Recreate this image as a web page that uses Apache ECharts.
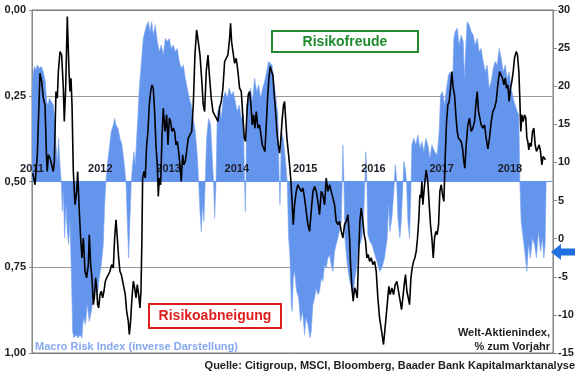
<!DOCTYPE html>
<html><head><meta charset="utf-8">
<script src="https://cdn.jsdelivr.net/npm/echarts@6/dist/echarts.min.js"></script>
<style>html,body{margin:0;padding:0;background:#fff}#c{width:580px;height:375px}</style>
</head><body><div id="c"></div>
<script>
// Macro Risk Index (inverse), left axis
const riskDates = [2011.000,2011.020,2011.039,2011.059,2011.078,2011.107,2011.137,2011.166,2011.195,2011.215,2011.234,2011.254,2011.283,2011.312,2011.332,2011.351,2011.371,2011.390,2011.410,2011.429,2011.444,2011.459,2011.478,2011.498,2011.517,2011.537,2011.556,2011.576,2011.595,2011.615,2011.644,2011.673,2011.703,2011.732,2011.752,2011.781,2011.810,2011.839,2011.869,2011.898,2011.927,2011.956,2011.986,2012.015,2012.044,2012.064,2012.083,2012.103,2012.132,2012.161,2012.191,2012.210,2012.230,2012.259,2012.288,2012.318,2012.347,2012.376,2012.396,2012.415,2012.435,2012.454,2012.474,2012.493,2012.513,2012.532,2012.552,2012.571,2012.591,2012.610,2012.630,2012.654,2012.679,2012.703,2012.728,2012.752,2012.776,2012.806,2012.835,2012.864,2012.893,2012.923,2012.952,2012.981,2013.011,2013.040,2013.069,2013.098,2013.128,2013.157,2013.186,2013.216,2013.245,2013.274,2013.303,2013.333,2013.362,2013.391,2013.420,2013.440,2013.460,2013.479,2013.498,2013.518,2013.537,2013.557,2013.586,2013.616,2013.645,2013.660,2013.674,2013.694,2013.713,2013.743,2013.772,2013.801,2013.830,2013.860,2013.889,2013.918,2013.948,2013.977,2014.006,2014.035,2014.065,2014.094,2014.113,2014.123,2014.133,2014.143,2014.172,2014.201,2014.230,2014.260,2014.289,2014.318,2014.348,2014.377,2014.406,2014.435,2014.465,2014.484,2014.514,2014.543,2014.572,2014.601,2014.621,2014.631,2014.640,2014.650,2014.679,2014.709,2014.738,2014.758,2014.777,2014.797,2014.811,2014.826,2014.845,2014.875,2014.904,2014.933,2014.963,2014.992,2015.011,2015.041,2015.070,2015.089,2015.114,2015.138,2015.163,2015.187,2015.211,2015.236,2015.260,2015.285,2015.309,2015.333,2015.358,2015.382,2015.407,2015.431,2015.455,2015.480,2015.504,2015.529,2015.543,2015.553,2015.568,2015.582,2015.607,2015.631,2015.655,2015.680,2015.704,2015.729,2015.753,2015.777,2015.802,2015.831,2015.860,2015.875,2015.890,2015.904,2015.919,2015.948,2015.978,2016.007,2016.036,2016.065,2016.095,2016.124,2016.163,2016.202,2016.222,2016.241,2016.270,2016.300,2016.319,2016.339,2016.358,2016.388,2016.407,2016.427,2016.446,2016.466,2016.485,2016.505,2016.529,2016.549,2016.563,2016.592,2016.622,2016.651,2016.680,2016.710,2016.739,2016.768,2016.797,2016.827,2016.856,2016.895,2016.934,2016.963,2016.983,2017.012,2017.041,2017.071,2017.100,2017.129,2017.159,2017.178,2017.198,2017.227,2017.256,2017.285,2017.315,2017.334,2017.354,2017.373,2017.403,2017.432,2017.461,2017.490,2017.520,2017.549,2017.578,2017.608,2017.637,2017.666,2017.695,2017.725,2017.754,2017.783,2017.812,2017.842,2017.871,2017.900,2017.930,2017.959,2017.988,2018.017,2018.047,2018.076,2018.105,2018.130,2018.144,2018.164,2018.193,2018.222,2018.247,2018.271,2018.300,2018.330,2018.359,2018.388,2018.417,2018.447,2018.476,2018.495,2018.515,2018.530];
const riskValues = [0.238,0.180,0.165,0.175,0.160,0.170,0.165,0.180,0.209,0.267,0.277,0.257,0.267,0.277,0.316,0.393,0.442,0.374,0.451,0.500,0.587,0.529,0.665,0.568,0.646,0.684,0.617,0.762,0.937,0.956,0.947,0.956,0.947,0.956,0.898,0.917,0.859,0.908,0.879,0.840,0.811,0.830,0.782,0.743,0.684,0.568,0.500,0.451,0.403,0.354,0.335,0.316,0.335,0.345,0.374,0.393,0.442,0.500,0.617,0.723,0.607,0.500,0.451,0.413,0.451,0.374,0.306,0.228,0.180,0.131,0.083,0.063,0.044,0.034,0.063,0.034,0.073,0.044,0.092,0.121,0.102,0.131,0.083,0.092,0.083,0.112,0.102,0.121,0.112,0.150,0.170,0.160,0.199,0.228,0.257,0.277,0.316,0.354,0.422,0.500,0.587,0.646,0.568,0.617,0.500,0.374,0.316,0.335,0.451,0.500,0.607,0.510,0.306,0.277,0.316,0.257,0.238,0.257,0.228,0.248,0.238,0.267,0.296,0.277,0.316,0.306,0.500,0.587,0.500,0.277,0.257,0.228,0.267,0.199,0.238,0.218,0.257,0.228,0.209,0.180,0.150,0.146,0.160,0.209,0.257,0.306,0.500,0.568,0.500,0.354,0.374,0.432,0.500,0.665,0.714,0.859,0.879,0.782,0.762,0.820,0.840,0.908,0.879,0.947,0.898,0.917,0.956,0.937,0.859,0.840,0.811,0.830,0.820,0.782,0.791,0.743,0.752,0.723,0.714,0.743,0.762,0.704,0.684,0.665,0.665,0.617,0.500,0.393,0.500,0.665,0.723,0.762,0.791,0.811,0.830,0.782,0.752,0.694,0.684,0.665,0.587,0.500,0.413,0.500,0.655,0.675,0.684,0.704,0.723,0.743,0.762,0.752,0.723,0.665,0.568,0.646,0.607,0.529,0.451,0.490,0.607,0.665,0.617,0.529,0.442,0.461,0.500,0.617,0.665,0.529,0.393,0.374,0.393,0.364,0.403,0.384,0.413,0.374,0.393,0.432,0.393,0.413,0.422,0.354,0.248,0.238,0.277,0.228,0.189,0.180,0.218,0.083,0.063,0.053,0.102,0.073,0.092,0.199,0.102,0.034,0.044,0.063,0.073,0.102,0.083,0.121,0.112,0.150,0.180,0.160,0.228,0.209,0.170,0.150,0.160,0.112,0.141,0.180,0.160,0.199,0.180,0.228,0.257,0.277,0.296,0.306,0.500,0.617,0.665,0.714,0.762,0.684,0.723,0.665,0.684,0.723,0.646,0.704,0.665,0.723,0.684,0.500];

// Welt-Aktienindex, % zum Vorjahr, right axis
const stockDates = [2011.010,2011.044,2011.078,2011.117,2011.142,2011.166,2011.190,2011.215,2011.224,2011.239,2011.264,2011.293,2011.312,2011.327,2011.351,2011.371,2011.386,2011.410,2011.434,2011.459,2011.473,2011.493,2011.517,2011.542,2011.556,2011.571,2011.586,2011.605,2011.630,2011.654,2011.669,2011.693,2011.712,2011.732,2011.752,2011.776,2011.800,2011.825,2011.839,2011.859,2011.878,2011.898,2011.913,2011.932,2011.947,2011.961,2011.976,2011.996,2012.015,2012.035,2012.054,2012.074,2012.093,2012.118,2012.142,2012.166,2012.191,2012.210,2012.230,2012.249,2012.269,2012.288,2012.308,2012.327,2012.347,2012.366,2012.386,2012.410,2012.425,2012.444,2012.464,2012.484,2012.503,2012.523,2012.542,2012.562,2012.581,2012.596,2012.610,2012.620,2012.640,2012.659,2012.679,2012.698,2012.718,2012.737,2012.757,2012.776,2012.796,2012.815,2012.835,2012.850,2012.864,2012.884,2012.903,2012.923,2012.947,2012.972,2012.991,2013.011,2013.030,2013.050,2013.069,2013.089,2013.108,2013.128,2013.147,2013.167,2013.186,2013.206,2013.225,2013.245,2013.264,2013.289,2013.313,2013.338,2013.362,2013.386,2013.411,2013.435,2013.460,2013.484,2013.508,2013.528,2013.552,2013.577,2013.601,2013.625,2013.650,2013.674,2013.699,2013.723,2013.747,2013.772,2013.796,2013.821,2013.845,2013.869,2013.894,2013.908,2013.923,2013.943,2013.967,2013.991,2014.016,2014.040,2014.065,2014.089,2014.109,2014.128,2014.148,2014.167,2014.187,2014.206,2014.226,2014.245,2014.265,2014.284,2014.309,2014.333,2014.353,2014.372,2014.392,2014.411,2014.431,2014.450,2014.470,2014.489,2014.509,2014.528,2014.548,2014.567,2014.587,2014.606,2014.626,2014.645,2014.665,2014.684,2014.699,2014.714,2014.733,2014.753,2014.772,2014.792,2014.811,2014.826,2014.845,2014.870,2014.894,2014.919,2014.943,2014.967,2014.992,2015.016,2015.041,2015.065,2015.089,2015.114,2015.138,2015.163,2015.187,2015.211,2015.236,2015.260,2015.285,2015.309,2015.333,2015.358,2015.382,2015.407,2015.431,2015.455,2015.480,2015.504,2015.529,2015.553,2015.577,2015.602,2015.626,2015.651,2015.665,2015.685,2015.704,2015.724,2015.743,2015.763,2015.782,2015.802,2015.821,2015.841,2015.865,2015.885,2015.904,2015.924,2015.943,2015.968,2015.992,2016.017,2016.041,2016.065,2016.090,2016.104,2016.124,2016.148,2016.173,2016.202,2016.226,2016.246,2016.270,2016.295,2016.319,2016.343,2016.368,2016.392,2016.412,2016.431,2016.451,2016.470,2016.490,2016.510,2016.529,2016.549,2016.568,2016.588,2016.607,2016.627,2016.646,2016.666,2016.680,2016.695,2016.710,2016.724,2016.749,2016.773,2016.797,2016.817,2016.836,2016.856,2016.876,2016.895,2016.915,2016.934,2016.954,2016.973,2016.993,2017.012,2017.032,2017.051,2017.071,2017.090,2017.110,2017.129,2017.149,2017.168,2017.188,2017.207,2017.227,2017.246,2017.266,2017.285,2017.305,2017.324,2017.339,2017.359,2017.383,2017.407,2017.432,2017.456,2017.481,2017.500,2017.520,2017.539,2017.559,2017.578,2017.603,2017.627,2017.651,2017.676,2017.700,2017.725,2017.749,2017.773,2017.798,2017.822,2017.847,2017.871,2017.891,2017.910,2017.930,2017.949,2017.969,2017.988,2018.008,2018.027,2018.047,2018.066,2018.091,2018.110,2018.130,2018.144,2018.159,2018.174,2018.193,2018.213,2018.232,2018.247,2018.261,2018.276,2018.291,2018.310,2018.330,2018.349,2018.369,2018.388,2018.408,2018.427,2018.447,2018.466,2018.486,2018.505,2018.520];
const stockValues = [8.60,7.07,11.00,21.70,20.61,18.43,17.55,10.13,8.82,11.00,10.57,10.79,8.82,10.13,19.30,18.43,21.92,24.54,24.10,19.74,15.37,19.74,29.13,21.92,19.30,21.05,17.55,8.82,4.45,6.20,8.82,3.58,0.09,-2.53,0.09,-4.28,-5.15,-3.41,0.52,-3.41,-5.15,-8.65,-7.77,-5.15,-6.46,-8.65,-9.08,-7.34,-6.90,-7.77,-6.90,-5.59,-5.15,-4.72,-4.28,-3.41,-3.84,0.09,2.49,0.09,-2.53,-4.28,-4.72,-5.59,-6.46,-7.34,-9.52,-10.83,-12.58,-10.83,-7.77,-5.59,-6.46,-7.77,-6.03,-7.34,-9.08,-6.90,0.09,7.95,8.82,7.95,12.31,14.06,17.55,19.30,20.17,19.74,16.68,12.31,9.69,5.54,7.95,7.07,13.19,17.12,14.06,16.24,12.31,15.81,15.37,14.06,14.50,14.06,12.31,12.75,11.44,9.69,7.51,11.00,9.69,10.13,11.44,13.19,13.62,14.06,17.55,24.10,27.38,25.85,24.10,21.05,17.55,16.68,21.92,24.10,21.05,18.43,16.68,16.24,15.81,15.37,17.12,17.99,19.74,23.23,23.67,24.10,26.29,28.25,25.85,24.54,23.01,23.67,21.92,19.74,19.30,15.81,13.19,12.75,16.68,18.86,19.30,17.55,14.93,16.24,14.50,16.68,14.50,14.93,13.62,12.31,11.88,11.44,14.93,18.43,21.05,22.58,21.92,21.49,18.86,16.68,14.06,12.31,11.22,13.19,15.81,17.55,17.99,15.81,13.19,11.44,9.69,7.51,4.45,1.83,4.45,6.20,7.07,7.29,6.20,6.64,5.32,3.58,1.83,0.96,3.58,6.20,6.86,6.20,4.89,3.14,6.20,5.76,4.45,7.95,6.20,7.07,6.20,5.32,4.45,2.27,1.83,2.27,0.96,0.09,1.83,2.27,3.14,0.09,-3.41,-6.46,-8.21,-6.46,-6.90,-7.77,-2.53,2.27,4.01,2.71,0.52,-0.35,-2.53,-2.10,-2.97,-2.53,-3.41,-2.97,-4.28,-7.77,-10.39,-10.61,-12.36,-13.89,-11.49,-8.65,-6.25,-7.34,-6.46,-7.34,-6.03,-5.59,-6.90,-8.21,-9.30,-7.77,-6.03,-4.72,-6.90,-7.77,-8.65,-5.15,-3.84,-2.97,-2.53,-1.66,0.09,2.71,5.76,5.32,7.51,4.45,7.07,9.04,7.51,4.45,1.83,0.09,-2.53,0.09,0.96,0.52,1.83,6.20,7.07,5.76,4.89,10.57,15.37,17.55,17.99,19.74,21.92,19.74,18.86,16.24,14.06,13.19,13.41,12.75,11.88,10.13,9.26,12.31,14.93,15.81,14.06,14.50,15.37,17.55,19.30,16.68,15.81,14.93,14.50,14.93,13.19,11.79,13.19,15.37,16.68,17.12,17.99,20.17,21.92,22.14,21.05,20.17,21.05,19.74,20.17,17.99,19.74,20.61,21.92,23.67,24.54,24.10,21.92,18.43,14.06,16.24,15.37,16.24,15.81,13.19,12.75,11.66,12.53,12.09,14.06,14.50,12.31,11.44,11.88,12.31,11.44,9.69,10.79,10.79,10.35];

const yearTicks = [2011, 2012, 2013, 2014, 2015, 2016, 2017, 2018];
const leftTicks = [0, 0.25, 0.5, 0.75, 1];
const rightTicks = [-15, -10, -5, 0, 5, 10, 15, 20, 25, 30];

const riskData = riskDates.map((d, i) => [d, riskValues[i]]);
const stockData = stockDates.map((d, i) => [d, stockValues[i]]);

const FONT = '"Liberation Sans", Arial, sans-serif';
const chart = echarts.init(document.getElementById('c'), null, {renderer: 'canvas'});
chart.setOption({
  animation: false,
  backgroundColor: '#fff',
  textStyle: {fontFamily: FONT},
  grid: {left: 32, right: 27, top: 10, bottom: 22, show: true, borderColor: '#7a7a7a', borderWidth: 1, outerBoundsMode: 'none'},
  xAxis: {
    type: 'value', min: yearTicks[0], max: 2018.63, interval: 1, z: 3,
    position: 'bottom', offset: -171,
    axisLine: {show: false}, axisTick: {show: false}, splitLine: {show: false},
    axisLabel: {inside: true, margin: 8, fontSize: 11, fontWeight: 'bold', color: '#1e1e2a', fontFamily: FONT,
      formatter: v => yearTicks.includes(v) ? String(v) : ''}
  },
  yAxis: [{
    type: 'value', inverse: true, min: leftTicks[0], max: leftTicks[leftTicks.length - 1], interval: 0.25, position: 'left',
    axisLine: {show: true, lineStyle: {color: '#8a8a8a'}},
    axisTick: {show: true, length: 3, lineStyle: {color: '#8a8a8a'}},
    splitLine: {show: true, lineStyle: {color: ['#7a7a7a', '#9a9a9a', '#6495ED', '#9a9a9a', '#7a7a7a'], width: 1}},
    axisLabel: {margin: 6, fontSize: 11, fontWeight: 'bold', color: '#1e1e1e', fontFamily: FONT,
      formatter: v => v.toFixed(2).replace('.', ',')}
  }, {
    type: 'value', min: rightTicks[0], max: rightTicks[rightTicks.length - 1], interval: 5, position: 'right',
    axisLine: {show: true, lineStyle: {color: '#8a8a8a'}},
    axisTick: {show: true, length: 4, lineStyle: {color: '#8a8a8a'}},
    splitLine: {show: false},
    axisLabel: {margin: 5, fontSize: 11, fontWeight: 'bold', color: '#1e1e1e', fontFamily: FONT}
  }],
  series: [{
    name: 'Macro Risk Index (inverse Darstellung)', type: 'line', yAxisIndex: 0, data: riskData,
    showSymbol: false, symbol: 'none', z: 2,
    lineStyle: {width: 0.6, color: '#7aa4ef'},
    areaStyle: {origin: 0.5, color: '#6495ED', opacity: 1}
  }, {
    name: 'Welt-Aktienindex, % zum Vorjahr', type: 'line', yAxisIndex: 1, data: stockData,
    showSymbol: false, symbol: 'none', z: 5,
    lineStyle: {width: 1.6, color: '#000'}
  }],
  graphic: [
    {type: 'rect', z: 100, shape: {x: 272, y: 31, width: 146, height: 21}, style: {fill: '#fff', stroke: '#1f8a2e', lineWidth: 2}},
    {type: 'text', z: 101, x: 345, y: 42, style: {text: 'Risikofreude', fill: '#1f8a2e', font: 'bold 14px ' + FONT, align: 'center', verticalAlign: 'middle'}},
    {type: 'rect', z: 100, shape: {x: 149, y: 304, width: 132, height: 24}, style: {fill: '#fff', stroke: '#e01e1e', lineWidth: 2}},
    {type: 'text', z: 101, x: 215, y: 316, style: {text: 'Risikoabneigung', fill: '#e01e1e', font: 'bold 14px ' + FONT, align: 'center', verticalAlign: 'middle'}},
    {type: 'text', z: 101, x: 35, y: 347, style: {text: 'Macro Risk Index (inverse Darstellung)', fill: '#86a8ee', font: 'bold 11px ' + FONT, align: 'left', verticalAlign: 'middle'}},
    {type: 'text', z: 101, x: 550, y: 333, style: {text: 'Welt-Aktienindex,', fill: '#1e1e1e', font: 'bold 11px ' + FONT, align: 'right', verticalAlign: 'middle'}},
    {type: 'text', z: 101, x: 550, y: 347, style: {text: '% zum Vorjahr', fill: '#1e1e1e', font: 'bold 11px ' + FONT, align: 'right', verticalAlign: 'middle'}},
    {type: 'text', z: 101, x: 575, y: 366, style: {text: 'Quelle: Citigroup, MSCI, Bloomberg, Baader Bank Kapitalmarktanalyse', fill: '#1e1e1e', font: 'bold 11px ' + FONT, align: 'right', verticalAlign: 'middle'}},
    {type: 'polygon', z: 101, shape: {points: [[551, 252], [561, 244], [561, 248.5], [575, 248.5], [575, 255.5], [561, 255.5], [561, 260]]}, style: {fill: '#1f6fe0'}}
  ]
});
</script></body></html>
